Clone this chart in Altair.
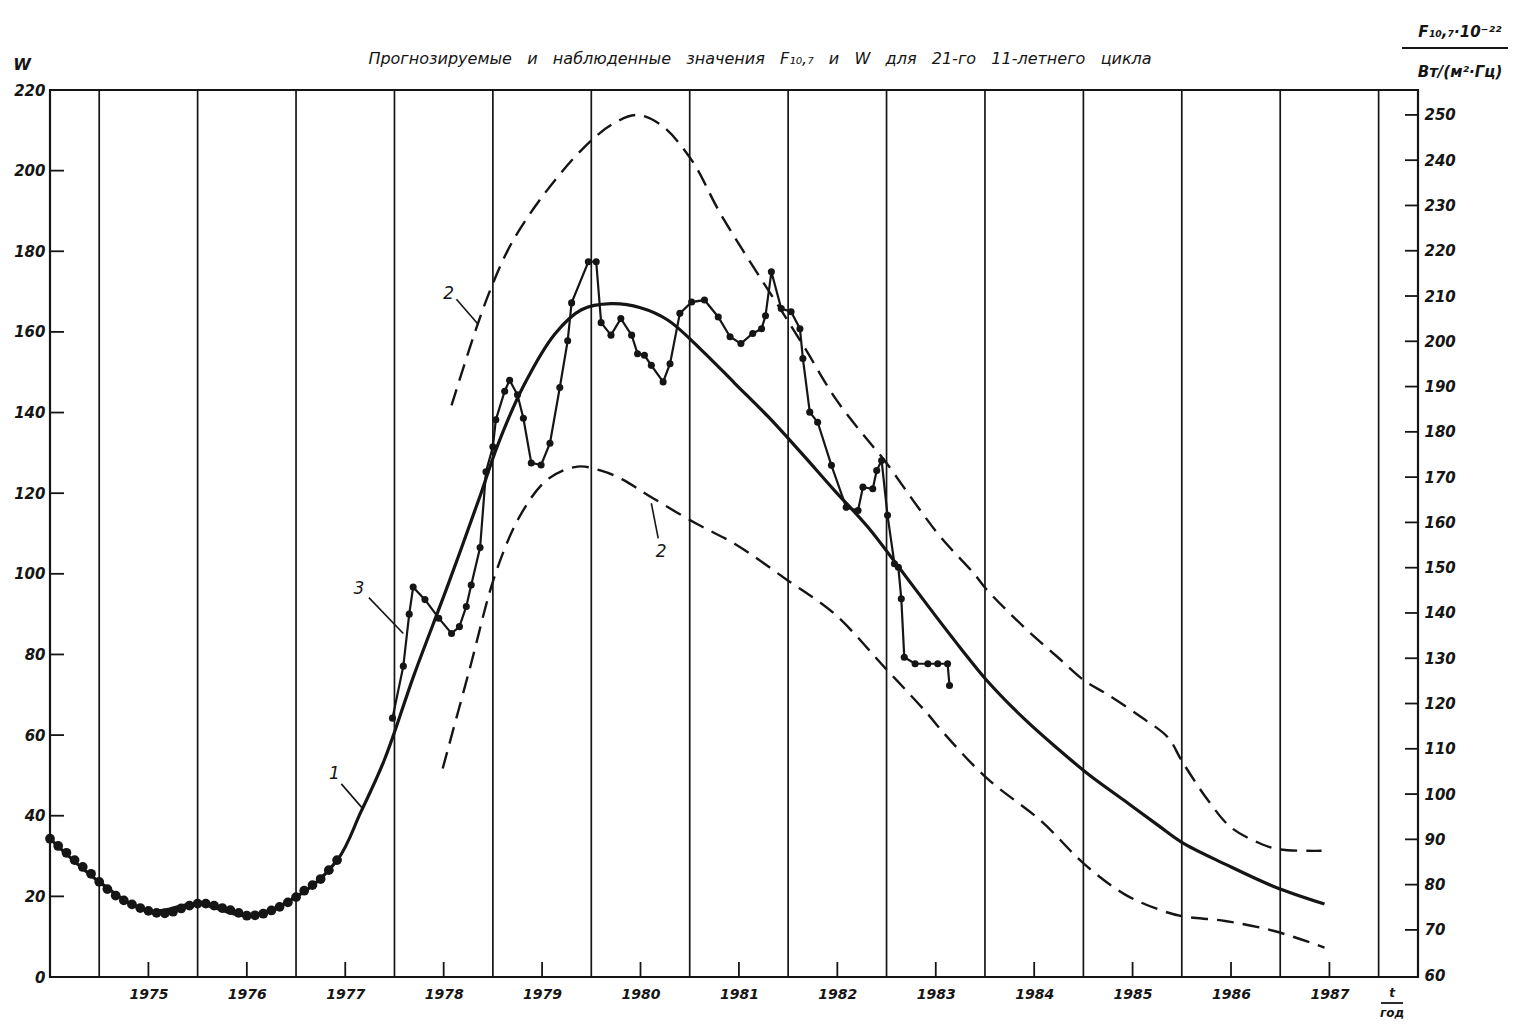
import altair as alt
import pandas as pd

# ---------------- data ----------------
W_TICKS = [0, 20, 40, 60, 80, 100, 120, 140, 160, 180, 200, 220]
F_TICKS = [60, 70, 80, 90, 100, 110, 120, 130, 140, 150, 160, 170, 180, 190, 200, 210, 220, 230, 240, 250]
YEARS = [1975, 1976, 1977, 1978, 1979, 1980, 1981, 1982, 1983, 1984, 1985, 1986, 1987]
GRID_T = [1974.5, 1975.5, 1976.5, 1977.5, 1978.5, 1979.5, 1980.5, 1981.5, 1982.5,
          1983.5, 1984.5, 1985.5, 1986.5, 1987.5]

# observed (smoothed) W, 1974-1977, dots on curve 1
early_t = [1974.00, 1974.083, 1974.167, 1974.25, 1974.333, 1974.417, 1974.50, 1974.583,
           1974.667, 1974.75, 1974.833, 1974.917, 1975.00, 1975.083, 1975.167, 1975.25,
           1975.333, 1975.417, 1975.50, 1975.583, 1975.667, 1975.75, 1975.833, 1975.917,
           1976.00, 1976.083, 1976.167, 1976.25, 1976.333, 1976.417, 1976.50, 1976.583,
           1976.667, 1976.75, 1976.833, 1976.917]
early_w = [34.3, 32.5, 30.8, 29.0, 27.3, 25.6, 23.6, 21.8,
           20.2, 19.0, 18.0, 17.1, 16.4, 15.9, 15.8, 16.2,
           17.0, 17.7, 18.2, 18.2, 17.7, 17.1, 16.6, 15.9,
           15.2, 15.3, 15.7, 16.5, 17.4, 18.5, 19.8, 21.4,
           22.8, 24.3, 26.5, 29.0]

# curve 1 (solid, predicted)
c1_t = [1974.00, 1974.50, 1975.00, 1975.50, 1976.00, 1976.50, 1976.92, 1977.16, 1977.40,
        1977.70, 1978.04, 1978.38, 1978.55, 1978.82, 1979.13, 1979.40, 1979.70, 1980.00,
        1980.28, 1980.62, 1980.96, 1981.30, 1981.64, 1981.97, 1982.31, 1982.65, 1983.00,
        1983.27, 1983.51, 1983.90, 1984.24, 1984.55, 1984.92, 1985.26, 1985.50, 1985.94,
        1986.44, 1986.95]
c1_w = [34.3, 23.6, 16.4, 18.2, 15.2, 19.8, 29.0, 41.0, 54.0,
        75.0, 97.0, 120.0, 132.0, 147.0, 159.5, 165.5, 167.0, 166.0,
        162.9, 155.5, 147.2, 138.9, 129.8, 120.7, 111.6, 100.8, 89.5,
        81.0, 73.8, 64.0, 56.6, 50.3, 43.7, 37.6, 33.4, 28.0,
        22.4, 18.1]

# curve 2 upper (dashed)
up_t = [1978.08, 1978.33, 1978.50, 1978.69, 1979.00, 1979.40, 1979.70, 1979.96, 1980.21,
        1980.52, 1980.82, 1981.48, 1981.67, 1981.98, 1982.31, 1982.48, 1982.82, 1983.06,
        1983.39, 1983.51, 1983.90, 1984.24, 1984.51, 1984.75, 1985.09, 1985.36, 1985.50,
        1985.77, 1986.00, 1986.28, 1986.48, 1986.92]
up_w = [141.8, 160.8, 172.0, 182.0, 193.5, 205.1, 211.3, 213.8, 211.3,
        202.6, 189.0, 163.4, 156.0, 143.5, 133.1, 128.1, 116.5, 108.8,
        100.0, 96.3, 86.7, 79.3, 73.5, 70.0, 64.4, 59.4, 53.6,
        43.7, 37.1, 33.3, 31.7, 31.3]

# curve 2 lower (dashed)
lo_t = [1977.99, 1978.26, 1978.53, 1978.79, 1979.06, 1979.36, 1979.60, 1979.81, 1980.11,
        1980.57, 1980.96, 1981.50, 1981.97, 1982.48, 1982.92, 1983.06, 1983.51, 1984.07,
        1984.51, 1984.92, 1985.26, 1985.50, 1985.94, 1986.44, 1986.95]
lo_w = [51.7, 76.0, 100.3, 115.0, 123.5, 126.6, 125.6, 123.5, 119.0,
        112.4, 107.4, 98.3, 90.1, 76.8, 65.2, 61.1, 49.5, 38.7,
        28.0, 20.5, 16.8, 15.1, 13.9, 11.4, 7.3]

# curve 3 observed (line with dots)
ob_t = [1977.48, 1977.59, 1977.65, 1977.69, 1977.81, 1977.95, 1978.08, 1978.16, 1978.23,
        1978.28, 1978.37, 1978.43, 1978.50, 1978.53, 1978.62, 1978.67, 1978.75, 1978.81,
        1978.89, 1978.99, 1979.08, 1979.18, 1979.26, 1979.30, 1979.47, 1979.55, 1979.60,
        1979.70, 1979.80, 1979.91, 1979.97, 1980.04, 1980.11, 1980.23, 1980.30, 1980.40,
        1980.52, 1980.65, 1980.79, 1980.91, 1981.02, 1981.14, 1981.23, 1981.27, 1981.33,
        1981.43, 1981.53, 1981.62, 1981.65, 1981.72, 1981.80, 1981.94, 1982.09, 1982.21,
        1982.26, 1982.36, 1982.40, 1982.45, 1982.51, 1982.58, 1982.62, 1982.65, 1982.68,
        1982.79, 1982.92, 1983.02, 1983.12, 1983.14]
ob_w = [64.2, 77.1, 90.0, 96.7, 93.6, 89.0, 85.2, 86.9, 91.9,
        97.2, 106.5, 125.3, 131.5, 138.2, 145.3, 148.0, 144.4, 138.6,
        127.5, 127.0, 132.4, 146.2, 157.8, 167.2, 177.4, 177.4, 162.3,
        159.2, 163.3, 159.2, 154.6, 154.2, 151.7, 147.6, 152.1, 164.6,
        167.4, 167.9, 163.7, 158.8, 157.1, 159.6, 160.8, 164.0, 174.9,
        165.8, 165.0, 160.8, 153.4, 140.1, 137.6, 126.9, 116.5, 115.7,
        121.5, 121.1, 125.6, 128.1, 114.5, 102.5, 101.6, 93.8, 79.3,
        77.7, 77.7, 77.7, 77.7, 72.3]

# curve labels and leader lines
lab_txt = ["1", "2", "2", "3"]
lab_t = [1976.89, 1978.05, 1980.21, 1977.14]
lab_w = [50.4, 169.4, 105.3, 96.3]
lead_t = [1976.96, 1978.13, 1980.18, 1977.24]
lead_w = [47.9, 168.1, 108.8, 94.1]
lead_t2 = [1977.18, 1978.35, 1980.11, 1977.59]
lead_w2 = [41.7, 161.9, 117.5, 85.2]

SP = " \u00a0\u00a0"
TITLE_WORDS = ["Прогнозируемые", "и", "наблюденные", "значения", "F₁₀,₇", "и", "W", "для",
               "21-го", "11-летнего", "цикла"]
TITLE = SP.join(TITLE_WORDS)

# ---------------- chart ----------------
PW, PH = 1368, 887
X_DOM = [1974.0, 1987.9]
W_DOM = [0, 220]
F_DOM = [59.6, 255.5]
INK = "#151515"
FONT = "DejaVu Sans"

xs = alt.Scale(domain=X_DOM, nice=False, zero=False)
ys = alt.Scale(domain=W_DOM, nice=False, zero=False)
fs = alt.Scale(domain=F_DOM, nice=False, zero=False)

grid = alt.Chart(pd.DataFrame({"t": GRID_T})).mark_rule(color=INK, strokeWidth=1.7).encode(
    x=alt.X("t:Q", scale=xs,
            axis=alt.Axis(values=YEARS, format="d", title=None, orient="bottom",
                          labelPadding=10, labelFontSize=14)))

bticks = alt.Chart(pd.DataFrame({"t": YEARS})).mark_rule(color=INK, strokeWidth=1.8).encode(
    x=alt.X("t:Q", scale=xs), y=alt.value(PH), y2=alt.value(PH - 15))

lticks = alt.Chart(pd.DataFrame({"W": W_TICKS})).mark_rule(color=INK, strokeWidth=1.8).encode(
    y=alt.Y("W:Q", scale=ys,
            axis=alt.Axis(values=W_TICKS, title=None, orient="left", labelPadding=5)),
    x=alt.value(0), x2=alt.value(14))

c1 = alt.Chart(pd.DataFrame({"t": c1_t, "W": c1_w})).mark_line(
    color=INK, strokeWidth=3.2, interpolate="catmull-rom").encode(
    x=alt.X("t:Q", scale=xs), y=alt.Y("W:Q", scale=ys))

up = alt.Chart(pd.DataFrame({"t": up_t, "W": up_w})).mark_line(
    color=INK, strokeWidth=2.4, strokeDash=[17, 9], interpolate="catmull-rom").encode(
    x=alt.X("t:Q", scale=xs), y=alt.Y("W:Q", scale=ys))

lo = alt.Chart(pd.DataFrame({"t": lo_t, "W": lo_w})).mark_line(
    color=INK, strokeWidth=2.4, strokeDash=[17, 9], interpolate="catmull-rom").encode(
    x=alt.X("t:Q", scale=xs), y=alt.Y("W:Q", scale=ys))

ob_df = pd.DataFrame({"t": ob_t, "W": ob_w})
ob_line = alt.Chart(ob_df).mark_line(color=INK, strokeWidth=2.2).encode(
    x=alt.X("t:Q", scale=xs), y=alt.Y("W:Q", scale=ys))
ob_dots = alt.Chart(ob_df).mark_circle(color=INK, size=50, opacity=1).encode(
    x=alt.X("t:Q", scale=xs), y=alt.Y("W:Q", scale=ys))

early = alt.Chart(pd.DataFrame({"t": early_t, "W": early_w})).mark_circle(
    color=INK, size=95, opacity=1).encode(
    x=alt.X("t:Q", scale=xs), y=alt.Y("W:Q", scale=ys))

labels = alt.Chart(pd.DataFrame({"t": lab_t, "W": lab_w, "txt": lab_txt})).mark_text(
    color=INK, font=FONT, fontSize=17, fontStyle="italic").encode(
    x=alt.X("t:Q", scale=xs), y=alt.Y("W:Q", scale=ys), text="txt:N")

leaders = alt.Chart(pd.DataFrame({"t": lead_t, "W": lead_w, "t2": lead_t2, "W2": lead_w2})).mark_rule(
    color=INK, strokeWidth=1.6).encode(
    x=alt.X("t:Q", scale=xs), y=alt.Y("W:Q", scale=ys), x2="t2:Q", y2="W2:Q")


def txt(s, x, y, size=15, style="italic", weight="normal", align="center"):
    return alt.Chart(pd.DataFrame({"s": [s]})).mark_text(
        color=INK, font=FONT, fontSize=size, fontStyle=style, fontWeight=weight,
        align=align, baseline="middle").encode(text="s:N", x=alt.value(x), y=alt.value(y))


def seg(x1, x2, y):
    return alt.Chart(pd.DataFrame({"a": [0]})).mark_rule(color=INK, strokeWidth=1.8).encode(
        x=alt.value(x1), x2=alt.value(x2), y=alt.value(y))


title = txt(TITLE, 710, -31, size=16)
wlab = txt("W", -28, -25, size=16, weight="bold")
f_num = txt("F₁₀,₇·10⁻²²", 1410, -58, size=15, weight="bold")
f_bar = seg(1352, 1464, -42)
f_den = txt("Вт/(м²·Гц)", 1410, -18, size=15, weight="bold")
t_num = txt("t", 1342, 903, size=12, weight="bold")
t_bar = seg(1331, 1353, 913)
t_den = txt("год", 1342, 923, size=12, weight="bold")

w_group = alt.layer(grid, bticks, lticks, c1, up, lo, ob_line, ob_dots, early, labels, leaders,
                    title, wlab, f_num, f_bar, f_den, t_num, t_bar, t_den)

f_group = alt.Chart(pd.DataFrame({"F": F_TICKS[1:]})).mark_rule(
    color=INK, strokeWidth=1.8).encode(
    y=alt.Y("F:Q", scale=fs,
            axis=alt.Axis(values=F_TICKS, title=None, orient="right", labelPadding=6)),
    x=alt.value(PW - 13), x2=alt.value(PW))

chart = alt.layer(w_group, f_group).resolve_scale(y="independent").properties(
    width=PW, height=PH,
    autosize=alt.AutoSizeParams(type="none"),
    padding={"left": 42, "top": 82, "right": 90, "bottom": 43},
).configure_view(stroke=INK, strokeWidth=2.2).configure_axis(
    grid=False, domain=False, ticks=False, tickSize=0,
    labelFont=FONT, labelFontStyle="italic", labelFontWeight="bold",
    labelFontSize=15, labelColor=INK)

chart.save("out.html", embed_options={"renderer": "svg", "actions": False})
